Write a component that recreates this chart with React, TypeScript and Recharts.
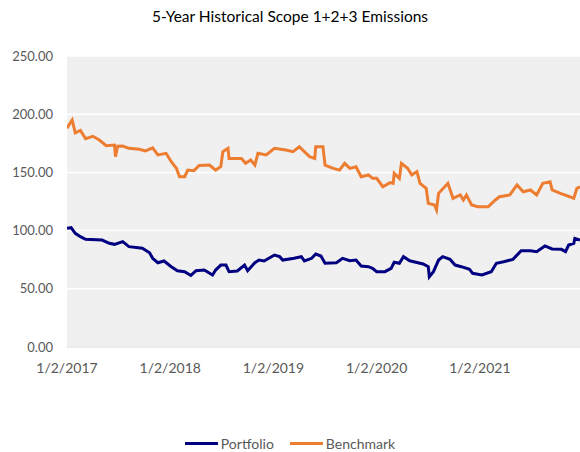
import React from "react";
import { LineChart, Line, XAxis, YAxis, CartesianGrid } from "recharts";

// Decimal-year positions and values
const portfolioYears = [
  2017.0, 2017.04, 2017.08, 2017.13, 2017.18, 2017.34, 2017.41, 2017.46, 2017.54, 2017.6,
  2017.73, 2017.8, 2017.83, 2017.88, 2017.94, 2018.01, 2018.07, 2018.14, 2018.2, 2018.25,
  2018.33, 2018.41, 2018.44, 2018.49, 2018.54, 2018.57, 2018.65, 2018.72, 2018.75, 2018.82,
  2018.86, 2018.91, 2019.01, 2019.06, 2019.09, 2019.2, 2019.27, 2019.3, 2019.37, 2019.41,
  2019.46, 2019.5, 2019.61, 2019.67, 2019.74, 2019.8, 2019.85, 2019.92, 2019.96, 2020.0,
  2020.08, 2020.14, 2020.17, 2020.22, 2020.26, 2020.32, 2020.4, 2020.45, 2020.5, 2020.51,
  2020.55, 2020.6, 2020.64, 2020.71, 2020.76, 2020.82, 2020.9, 2020.93, 2021.02, 2021.11,
  2021.16, 2021.23, 2021.32, 2021.4, 2021.49, 2021.55, 2021.63, 2021.7, 2021.79, 2021.83,
  2021.86, 2021.91, 2021.92, 2021.97,
];
const portfolioValues = [
  102, 102.5, 97.7, 94.8, 92.5, 91.9, 89.1, 88.2, 90.5, 86.2,
  84.8, 81, 76.2, 72.4, 73.9, 69, 65.5, 64.7, 61.5, 65.5,
  66.1, 61.9, 66.1, 70.4, 70.4, 64.7, 65.3, 70.4, 65.5, 72.4,
  74.7, 73.9, 79, 77.6, 74.7, 76.2, 77.6, 73.9, 76.2, 79.9,
  78.2, 71.9, 72.4, 76.2, 74.1, 74.7, 69.6, 69, 67.6, 64.7,
  64.7, 67.6, 72.8, 71.9, 77.6, 74.1, 72.4, 71.3, 69, 60.4,
  64.7, 74.7, 77.6, 75.3, 70.4, 69, 66.7, 63.3, 61.9, 64.7,
  71.9, 73.3, 75.3, 82.7, 82.7, 81.9, 86.8, 84.2, 83.9, 81.9,
  87.6, 89.1, 93.3, 91.9,
];

const benchmarkYears = [
  2017.0, 2017.05, 2017.08, 2017.13, 2017.18, 2017.25, 2017.31, 2017.38, 2017.46, 2017.47,
  2017.49, 2017.54, 2017.6, 2017.7, 2017.76, 2017.83, 2017.88, 2017.96, 2018.01, 2018.06,
  2018.09, 2018.14, 2018.17, 2018.23, 2018.28, 2018.38, 2018.44, 2018.49, 2018.51, 2018.56,
  2018.57, 2018.69, 2018.73, 2018.78, 2018.82, 2018.85, 2018.93, 2019.01, 2019.12, 2019.19,
  2019.25, 2019.35, 2019.4, 2019.41, 2019.48, 2019.5, 2019.58, 2019.64, 2019.69, 2019.74,
  2019.8, 2019.85, 2019.92, 2019.96, 2020.0, 2020.06, 2020.13, 2020.16, 2020.17, 2020.22,
  2020.24, 2020.3, 2020.34, 2020.39, 2020.42, 2020.48, 2020.5, 2020.56, 2020.58, 2020.6,
  2020.63, 2020.69, 2020.74, 2020.81, 2020.84, 2020.87, 2020.92, 2020.98, 2021.08, 2021.15,
  2021.19, 2021.29, 2021.36, 2021.42, 2021.49, 2021.55, 2021.61, 2021.68, 2021.7, 2021.78,
  2021.87, 2021.91, 2021.94, 2021.97,
];
const benchmarkValues = [
  188, 195, 184, 186, 179, 181, 178, 173, 173.5, 163.5,
  172.5, 172.7, 170.7, 169.8, 168.4, 171, 165, 166.4, 159.2, 153.5,
  146.3, 146.3, 152, 151.5, 156, 156.3, 152, 154.9, 167.8, 170.7,
  162, 162, 157.8, 160.6, 156.3, 166.4, 165, 170.7, 169.2, 167.8,
  172, 163.5, 162, 172, 172, 156.3, 153.5, 152, 157.8, 153.5,
  154.9, 146.3, 147.8, 144.9, 144.9, 137.7, 141.2, 140.6, 149.2, 144.9,
  157.8, 153.5, 147.8, 150.6, 140.6, 136.3, 123.4, 122, 117.7, 132,
  134.9, 140.6, 127.7, 130.6, 126.3, 130.6, 122, 120.5, 120.5, 126.3,
  129.1, 130.6, 139.2, 133.4, 134.9, 130.6, 140.6, 142, 134.9, 132,
  129.1, 127.7, 136.3, 137.7,
];

const xTicks = [2017, 2018, 2019, 2020, 2021];
const xTickLabels = ["1/2/2017", "1/2/2018", "1/2/2019", "1/2/2020", "1/2/2021"];
const yTicks = [0, 50, 100, 150, 200, 250];

const portfolioData = portfolioYears.map((t, i) => ({ t, v: portfolioValues[i] }));
const benchmarkData = benchmarkYears.map((t, i) => ({ t, v: benchmarkValues[i] }));

const FONT = "Lato, 'Open Sans', sans-serif";
const GRAY = "#595959";
const NAVY = "#000080";
const ORANGE = "#ED7D31";

export default function App() {
  return (
    <div
      style={{
        position: "absolute",
        left: 0,
        top: 0,
        width: 580,
        height: 452,
        background: "#fff",
        fontFamily: FONT,
        overflow: "hidden",
      }}
    >
      <div
        style={{
          position: "absolute",
          top: 7,
          left: 0,
          width: 580,
          textAlign: "center",
          fontSize: 15.5,
          color: "#000",
          fontFamily: FONT,
        }}
      >
        5-Year Historical Scope 1+2+3 Emissions
      </div>
      <LineChart
        width={580}
        height={452}
        margin={{ top: 56, right: 0, left: 0, bottom: 75 }}
      >
        <CartesianGrid
          vertical={false}
          fill="#f0f0f0"
          stroke="#ffffff"
          strokeWidth={1.5}
        />
        <XAxis
          dataKey="t"
          type="number"
          domain={[2017, 2021.97]}
          ticks={xTicks}
          allowDataOverflow
          tickFormatter={(v: number) => xTickLabels[xTicks.indexOf(v)] ?? ""}
          tickLine={false}
          axisLine={{ stroke: "#d9d9d9", strokeWidth: 1 }}
          tick={{ fill: GRAY, fontSize: 14, fontFamily: FONT }}
          tickMargin={10}
          height={30}
          interval={0}
        />
        <YAxis
          type="number"
          domain={[0, 250]}
          ticks={yTicks}
          tickFormatter={(v: number) => v.toFixed(2)}
          tickLine={false}
          axisLine={false}
          tickMargin={8}
          width={67}
          tick={{ fill: GRAY, fontSize: 13, fontFamily: FONT }}
          interval={0}
        />
        <Line
          data={portfolioData}
          dataKey="v"
          name="Portfolio"
          type="linear"
          stroke={NAVY}
          strokeWidth={3}
          dot={false}
          isAnimationActive={false}
        />
        <Line
          data={benchmarkData}
          dataKey="v"
          name="Benchmark"
          type="linear"
          stroke={ORANGE}
          strokeWidth={3}
          dot={false}
          isAnimationActive={false}
        />
      </LineChart>
      <div
        style={{
          position: "absolute",
          top: 435,
          left: 0,
          width: 580,
          display: "flex",
          justifyContent: "center",
          alignItems: "center",
          fontSize: 14,
          color: GRAY,
          fontFamily: FONT,
        }}
      >
        <span style={{ display: "inline-block", width: 33, height: 3, background: NAVY, marginRight: 3 }} />
        <span style={{ marginRight: 16 }}>Portfolio</span>
        <span style={{ display: "inline-block", width: 33, height: 3, background: ORANGE, marginRight: 3 }} />
        <span>Benchmark</span>
      </div>
    </div>
  );
}
